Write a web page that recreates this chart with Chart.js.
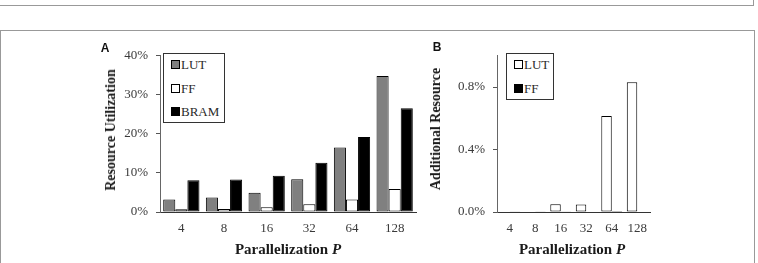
<!DOCTYPE html>
<html>
<head>
<meta charset="utf-8">
<script src="https://cdn.jsdelivr.net/npm/chart.js@4/dist/chart.umd.min.js"></script>
<style>
  html, body { margin: 0; padding: 0; background: #fff; }
  #root { position: relative; width: 758px; height: 263px; overflow: hidden; background: #fff; }
  .abs { position: absolute; }
  .ytitle { font-family: "Liberation Serif", serif; font-weight: bold; font-size: 14px; color: #1a1a1a; white-space: nowrap; transform: translate(-50%, -50%) rotate(-90deg); }
  .xtitle { font-family: "Liberation Serif", serif; font-weight: bold; font-size: 15px; color: #1a1a1a; white-space: nowrap; transform: translate(-50%, -50%); }
  .panel { font-family: "Liberation Sans", Arial, sans-serif; font-weight: bold; font-size: 12px; color: #111; transform: translate(-50%, -50%); }
  .legend { border: 1px solid #333; background: #fff; box-sizing: border-box; }
  .li { position: absolute; left: 7px; font-family: "Liberation Serif", serif; font-size: 13px; color: #2a2a2a; line-height: 14px; transform: translateY(-50%); white-space: nowrap; }
  .sw { display: inline-block; width: 7px; height: 7px; border: 1px solid #000; margin-right: 1px; vertical-align: 0px; }
</style>
</head>
<body>
<div id="root">
  <!-- frame lines -->
  <div class="abs" style="left:0;top:0;width:753px;height:5px;border-right:1px solid #999;border-bottom:1px solid #999;"></div>
  <div class="abs" style="left:0;top:30px;width:753px;height:240px;border:1px solid #999;border-bottom:none;"></div>

  <canvas id="cA" class="abs" style="left:60px;top:40px;"></canvas>
  <canvas id="cB" class="abs" style="left:420px;top:40px;"></canvas>

  <div class="abs panel" style="left:105px;top:48px;">A</div>
  <div class="abs panel" style="left:437px;top:47px;">B</div>

  <div class="abs ytitle" style="left:111px;top:130px;">Resource Utilization</div>
  <div class="abs ytitle" style="left:436px;top:129px;">Additional Resource</div>
  <div class="abs xtitle" style="left:288px;top:249px;">Parallelization <i>P</i></div>
  <div class="abs xtitle" style="left:572px;top:249px;">Parallelization <i>P</i></div>

  <div class="abs legend" style="left:163px;top:53px;width:62px;height:70px;">
    <div class="li" style="top:11px;"><span class="sw" style="background:#808080;"></span>LUT</div>
    <div class="li" style="top:35px;"><span class="sw" style="background:#fff;"></span>FF</div>
    <div class="li" style="top:58px;"><span class="sw" style="background:#000;"></span>BRAM</div>
  </div>
  <div class="abs legend" style="left:506px;top:53px;width:48px;height:47px;">
    <div class="li" style="top:11px;"><span class="sw" style="background:#fff;"></span>LUT</div>
    <div class="li" style="top:35px;"><span class="sw" style="background:#000;"></span>FF</div>
  </div>
</div>
<script>
// ---- data ----
const categories = ['4', '8', '16', '32', '64', '128'];
// Panel A: resource utilization (%)
const lutA  = [3.2, 3.7, 4.9, 8.4, 16.5, 34.8];
const ffA   = [0.7, 0.8, 1.2, 2.0, 3.2, 5.9];
const bramA = [8.1, 8.3, 9.3, 12.6, 19.2, 26.6];
// Panel B: additional resource (%)
const lutB = [0, 0, 0.05, 0.048, 0.615, 0.83];
const ffB  = [0.002, 0.002, 0.002, 0.003, 0.006, 0];
// tick values
const yTicksA = [0, 10, 20, 30, 40];
const yTicksB = [0, 0.4, 0.8];

const tickFont = { family: 'Liberation Serif', size: 13 };
const tickColor = '#3a3a3a';

function makeChart(id, w, h, yWidth, padRight, datasets, yMax, yTicks, fmt, catPct) {
  const cv = document.getElementById(id);
  cv.width = w; cv.height = h;
  cv.style.width = w + 'px'; cv.style.height = h + 'px';
  return new Chart(cv, {
    type: 'bar',
    data: { labels: categories, datasets: datasets },
    options: {
      responsive: false,
      animation: false,
      devicePixelRatio: 1,
      layout: { padding: { top: 10, right: padRight, left: 0, bottom: 0 } },
      plugins: { legend: { display: false }, tooltip: { enabled: false } },
      datasets: { bar: { barPercentage: 1.0, categoryPercentage: catPct, borderWidth: 1, borderColor: '#000', borderSkipped: false } },
      scales: {
        x: {
          grid: { display: false, drawTicks: false },
          border: { display: true, color: '#333', width: 1 },
          ticks: { font: tickFont, color: tickColor, padding: 9, maxRotation: 0 },
          afterFit: s => { s.height = 51; }
        },
        y: {
          min: 0, max: yMax,
          grid: { drawOnChartArea: false, drawTicks: true, tickLength: 4, color: '#555' },
          border: { display: true, color: '#666', width: 1 },
          ticks: { font: tickFont, color: tickColor, padding: 8, callback: v => fmt(v) },
          afterBuildTicks: s => { s.ticks = yTicks.map(v => ({ value: v })); },
          afterFit: s => { s.width = yWidth; }
        }
      }
    }
  });
}

makeChart('cA', 370, 223, 100, 14, [
  { label: 'LUT',  data: lutA,  backgroundColor: '#808080' },
  { label: 'FF',   data: ffA,   backgroundColor: '#ffffff' },
  { label: 'BRAM', data: bramA, backgroundColor: '#000000' }
], 40, yTicksA, v => v + '%', 0.85);

makeChart('cB', 250, 223, 77, 20, [
  { label: 'LUT', data: lutB, backgroundColor: '#ffffff' },
  { label: 'FF',  data: ffB,  backgroundColor: '#000000' }
], 1.0, yTicksB, v => v.toFixed(1) + '%', 0.82);
</script>
</body>
</html>
